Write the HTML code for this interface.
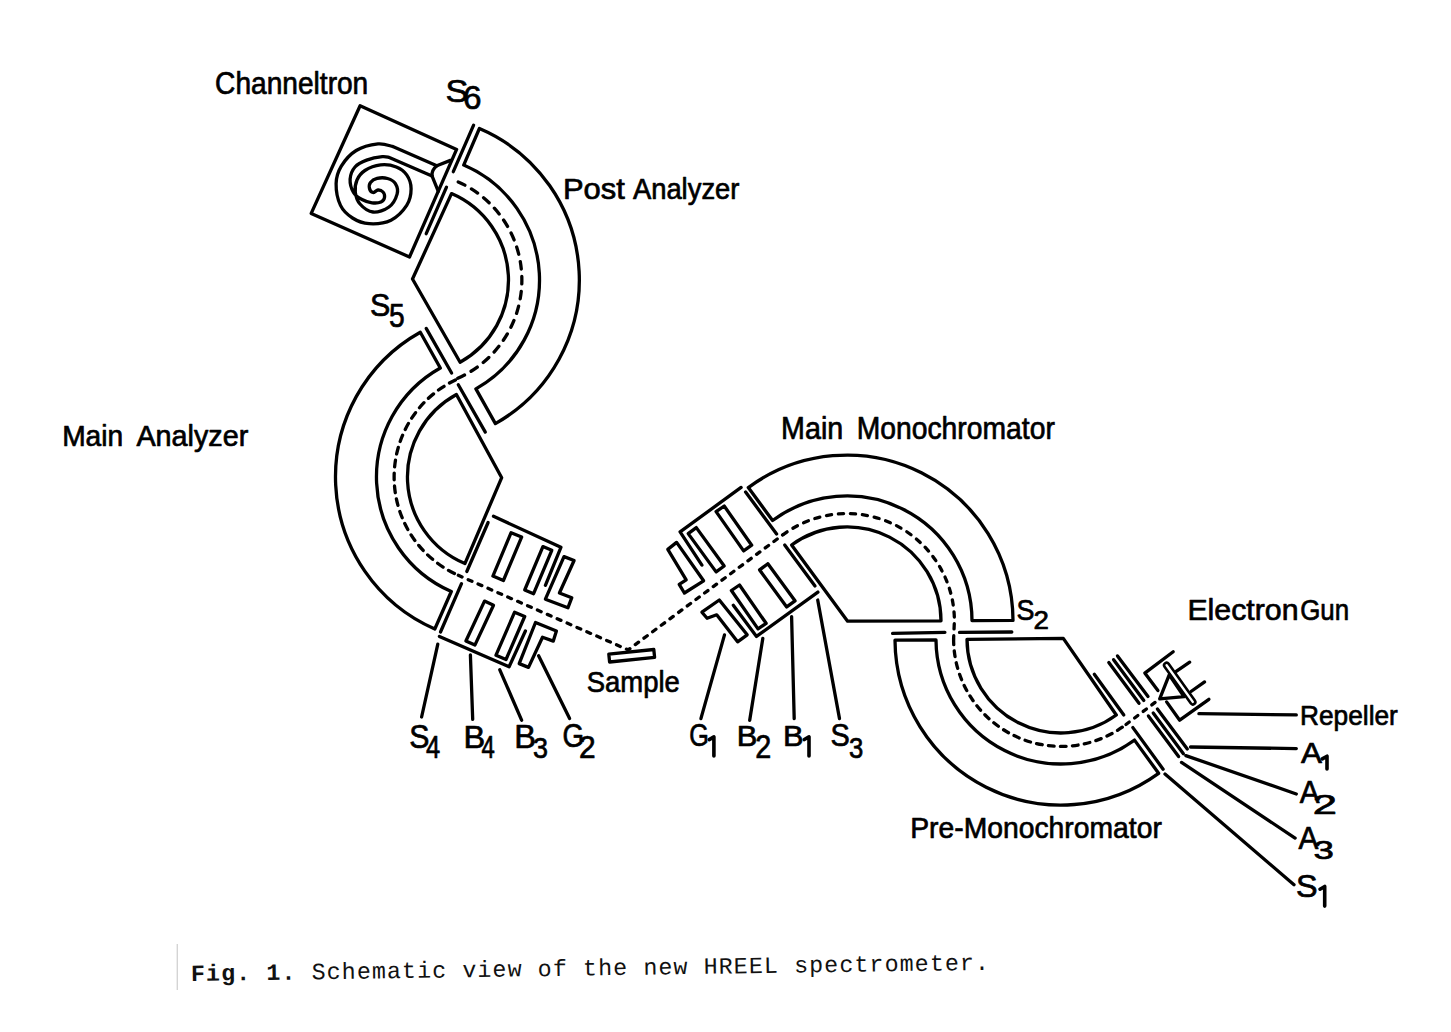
<!DOCTYPE html>
<html><head><meta charset="utf-8"><style>
html,body{margin:0;padding:0;background:#fff;}
body{width:1451px;height:1032px;overflow:hidden;}
svg{display:block;}
.s{fill:none;stroke:#000;stroke-width:3.3;stroke-linejoin:round;stroke-linecap:round;}
.d{fill:none;stroke:#000;stroke-width:3.3;stroke-dasharray:7.5 7.5;stroke-linecap:round;}
.t{font-family:"Liberation Sans",sans-serif;fill:#000;stroke:#000;stroke-width:0.7px;stroke-linejoin:round;}
.c{font-family:"Liberation Mono",monospace;font-size:23.3px;letter-spacing:1.1px;fill:#111;white-space:pre;}
</style></head><body>
<svg width="1451" height="1032" viewBox="0 0 1451 1032">
<path class="s" d="M479.4,128.5 A164.8,164.8 0 0 1 495.4,423.6 L475.9,388.9 A125.0,125.0 0 0 0 463.7,165.1 Z"/>
<path class="s" d="M451.5,193.6 A94.0,94.0 0 0 1 460.1,362.2 L412.5,279.0 Z"/>
<path class="s" d="M473.6,125.2 L453.3,171.7"/>
<path class="s" d="M446.5,187.2 L426.2,233.7"/>
<path class="s" d="M426.2,328.4 L451.6,373.0"/>
<path class="s" d="M458.3,384.7 L485.3,432.1"/>
<path class="s" d="M360.1,105.8 L456.6,149.4 L409.5,257.0 L311.2,213.4 Z"/>
<path class="s" d="M436.8,165.7 L450.4,160.4"/>
<path class="s" d="M436.8,165.7 Q431.5,170 432,175.9"/>
<path class="s" d="M432,175.9 L438.3,191.4"/>
<path class="s" d="M436.8,165.7 L392.8,146.5 C390.3,146.1 384.1,143.2 378.0,143.9 C371.9,144.6 362.3,146.8 356.2,150.5 C350.1,154.2 344.6,160.7 341.3,166.2 C338.0,171.7 336.2,177.1 336.1,183.6 C336.0,190.1 337.8,199.7 340.5,205.4 C343.2,211.1 347.7,214.9 352.5,218.0 C357.3,221.1 362.8,223.3 369.2,223.7 C375.6,224.1 384.8,223.2 391.0,220.2 C397.2,217.1 403.3,210.6 406.7,205.4 C410.1,200.2 411.1,193.9 411.1,188.8 C411.1,183.7 409.2,178.5 406.7,174.9 C404.2,171.3 400.6,168.7 396.3,167.0 C392.0,165.3 385.8,164.3 380.6,164.9 C375.4,165.5 368.8,168.0 364.9,170.5 C361.0,173.0 358.6,176.4 357.0,180.0 C355.4,183.6 354.8,188.3 355.3,192.3 C355.8,196.3 357.1,200.7 360.0,204.0 C362.9,207.3 368.2,211.5 373.0,212.0 C377.8,212.5 385.0,210.0 389.0,207.0 C393.0,204.0 396.0,198.0 397.1,194.1 C398.2,190.2 397.0,186.2 395.4,183.6 C393.8,181.0 390.6,179.4 387.5,178.5 C384.4,177.6 379.9,177.7 377.1,178.4 C374.3,179.1 371.8,180.8 370.5,182.5 C369.2,184.2 369.1,186.8 369.5,188.5 C369.9,190.2 371.6,192.2 373.0,192.5 C374.4,192.8 376.3,190.1 378.0,190.0 C379.7,189.9 381.9,190.8 383.0,192.0 C384.1,193.2 384.8,195.8 384.5,197.5 C384.2,199.2 383.1,201.1 381.0,202.0 C378.9,202.9 375.2,203.2 372.0,202.8 C368.8,202.4 365.1,201.2 362.0,199.5 C358.9,197.8 355.5,195.9 353.5,192.5 C351.5,189.1 349.9,183.4 350.1,179.2 C350.4,174.9 352.2,170.2 355.0,167.0 C357.8,163.8 362.1,161.8 366.6,160.1 C371.2,158.4 378.5,157.0 382.3,156.6 C386.1,156.2 388.1,157.3 389.3,157.4 L432,175.9"/>
<path class="s" d="M420.3,332.2 A166.0,166.0 0 0 0 434.8,629.0 L451.3,591.5 A125.0,125.0 0 0 1 440.3,368.0 Z"/>
<path class="s" d="M456.4,394.5 A94.0,94.0 0 0 0 464.9,563.6 L501.7,477.7 Z"/>
<path class="s" d="M488.1,522.5 L466.8,571.5"/>
<path class="s" d="M461.5,583.7 L440.5,632.0"/>
<path class="s" d="M493.5,516.3 L560.9,547.3 L545.4,585.3"/>
<path class="s" d="M439.4,636.4 L509.1,666.7 L525.4,631.0"/>
<path class="s" d="M521.6,537.1 L511.1,532.7 L492.9,576.1 L503.4,580.5 Z"/>
<path class="s" d="M551.8,550.3 L542.9,546.6 L524.7,590.0 L533.6,593.7 Z"/>
<path class="s" d="M564.0,556.6 L574.1,560.5 L559.4,593.0 L571.8,597.7 L567.9,607.8 L545.4,599.2 Z"/>
<path class="s" d="M493.5,605.2 L484.5,601.1 L465.9,641.0 L474.9,645.1 Z"/>
<path class="s" d="M524.7,616.5 L514.6,612.2 L496.0,655.2 L506.0,659.5 Z"/>
<path class="s" d="M535.5,622.5 L556.4,631.0 L553.3,641.1 L542.5,637.2 L528.5,667.4 L519.2,663.6 Z"/>
<path class="s" d="M437.8,644.2 L421.6,717.0"/>
<path class="s" d="M470.4,655.0 L472.7,719.4"/>
<path class="s" d="M499.8,669.8 L521.6,720.2"/>
<path class="s" d="M538.6,655.8 L569.6,718.6"/>
<path class="s" d="M653.8,649.5 L608.8,654.2 L609.6,662.0 L654.6,657.3 Z"/>
<path class="s" d="M748.3,487.6 A166.0,166.0 0 0 1 1013.0,620.4 L972.0,620.6 A125.0,125.0 0 0 0 772.6,520.5 Z"/>
<path class="s" d="M791.6,545.0 A94.0,94.0 0 0 1 941.0,620.8 L847.6,621.2 Z"/>
<path class="s" d="M745.6,492.0 L776.6,534.0"/>
<path class="s" d="M784.7,545.0 L815.0,586.0"/>
<path class="s" d="M741.1,487.4 L680.1,531.9 L701.9,565.1"/>
<path class="s" d="M733.3,605.2 L756.5,636.4 L817.9,592.1"/>
<path class="s" d="M724.2,506.0 L716.1,511.6 L743.6,550.9 L751.7,545.2 Z"/>
<path class="s" d="M696.3,527.6 L688.2,533.6 L716.1,571.9 L724.2,566.0 Z"/>
<path class="s" d="M667.8,549.4 L676.6,542.4 L703.6,580.8 L684.4,593.0 L679.2,584.3 L686.2,579.9 Z"/>
<path class="s" d="M701.9,612.2 L719.3,600.0 L747.2,634.8 L737.6,641.8 L716.7,614.8 L707.1,618.3 Z"/>
<path class="s" d="M739.5,585.0 L731.4,590.5 L758.0,628.9 L766.1,623.3 Z"/>
<path class="s" d="M767.9,563.7 L759.6,569.9 L786.7,606.9 L795.0,600.8 Z"/>
<path class="s" d="M724.5,634.9 L700.9,718.6"/>
<path class="s" d="M762.8,638.4 L749.7,720.3"/>
<path class="s" d="M791.6,616.6 L794.2,718.6"/>
<path class="s" d="M817.7,600.0 L839.5,718.6"/>
<path class="s" d="M892.6,633.4 L944.9,632.4"/>
<path class="s" d="M959.5,632.4 L1011.8,632.0"/>
<path class="s" d="M895.0,640.2 A166.0,166.0 0 0 0 1158.6,773.3 L1134.5,740.1 A125.0,125.0 0 0 1 936.0,639.9 Z"/>
<path class="s" d="M967.0,639.3 A94.0,94.0 0 0 0 1116.3,715.0 L1063.3,638.4 Z"/>
<path class="s" d="M1094.3,674.3 L1123.8,715.0"/>
<path class="s" d="M1132.9,727.6 L1163.1,769.2"/>
<path class="s" d="M1108.8,662.6 L1139.0,703.3"/>
<path class="s" d="M1148.4,715.9 L1178.6,756.6"/>
<path class="s" d="M1113.6,659.7 L1143.8,700.4"/>
<path class="s" d="M1153.2,713.0 L1183.4,753.7"/>
<path class="s" d="M1117.5,655.9 L1148.0,696.5"/>
<path class="s" d="M1157.4,709.1 L1187.3,748.9"/>
<path class="s" d="M1173.2,651.8 L1144.8,673.1 L1157.9,690.6"/>
<path class="s" d="M1166.6,701.9 L1179.7,720.2 L1208.9,699.3"/>
<rect class="s" x="1164.1" y="662.8" width="50.0" height="5" rx="2.5" transform="rotate(54.40 1166.6 665.3)" style="stroke-width:2.6"/>
<path class="s" d="M1159.7,698.9 L1169.2,674.9 L1184.1,696.7 Z"/>
<path class="s" d="M1176.2,671.4 L1189.7,662.2"/>
<path class="s" d="M1191.0,691.5 L1204.6,681.9"/>
<path class="s" d="M1198.9,713.7 L1296.3,714.9"/>
<path class="s" d="M1190.5,747.0 L1296.3,748.6"/>
<path class="s" d="M1185.8,755.6 L1296.3,794.0"/>
<path class="s" d="M1181.5,762.4 L1295.1,838.1"/>
<path class="s" d="M1165.0,774.1 L1294.0,884.7"/>
<path class="d" d="M458.2,181.9 A107.4,107.4 0 0 1 455.6,379.2" style="stroke-dasharray:7.5 7.5"/>
<path class="d" d="M455.4,380.0 A107.4,107.4 0 0 0 458.3,575.3" style="stroke-dasharray:6.7 6.3"/>
<path class="d" d="M458.3,575.3 L628.2,649.9 L782.9,534.8" style="stroke-dasharray:4.1 6.7"/>
<path class="d" d="M782.9,534.8 A107.4,107.4 0 0 1 954.4,621.0 L953.6,639.0" style="stroke-dasharray:5.2 6.8"/>
<path class="d" d="M953.6,639.0 A107.4,107.4 0 0 0 1126.0,724.5" style="stroke-dasharray:5.7 6.3"/>
<path class="d" d="M1126.0,724.5 L1159.7,698.9" style="stroke-dasharray:4.1 6.7"/>
<text class="t" transform="translate(215.09 94.10) scale(0.9192 1)" style="font-size:30.60px">Channeltron</text>
<text class="t" transform="translate(562.93 198.60) scale(1.0378 1)" style="font-size:29.79px">Post</text>
<text class="t" transform="translate(632.90 198.60) scale(0.9192 1)" style="font-size:29.79px">Analyzer</text>
<text class="t" transform="translate(62.15 445.60) scale(0.9500 1)" style="font-size:29.65px">Main</text>
<text class="t" transform="translate(136.40 445.60) scale(0.9704 1)" style="font-size:29.65px">Analyzer</text>
<text class="t" transform="translate(781.11 439.10) scale(0.9368 1)" style="font-size:30.60px">Main</text>
<text class="t" transform="translate(856.64 439.10) scale(0.9249 1)" style="font-size:30.60px">Monochromator</text>
<text class="t" transform="translate(1187.38 619.70) scale(1.0085 1)" style="font-size:30.06px">Electron</text>
<text class="t" transform="translate(1300.21 619.70) scale(0.8604 1)" style="font-size:30.06px">Gun</text>
<text class="t" transform="translate(1300.00 725.30) scale(0.9333 1)" style="font-size:28.17px">Repeller</text>
<text class="t" transform="translate(910.24 837.60) scale(0.9462 1)" style="font-size:29.92px">Pre-Monochromator</text>
<text class="t" transform="translate(586.66 691.80) scale(0.9354 1)" style="font-size:29.38px">Sample</text>
<text class="t" transform="translate(445.46 102.09) scale(1.1210 1)" style="font-size:30.56px">S</text>
<text class="t" transform="translate(462.93 109.26) scale(0.9944 1)" style="font-size:33.52px">6</text>
<text class="t" transform="translate(369.93 315.98) scale(0.9436 1)" style="font-size:32.25px">S</text>
<text class="t" transform="translate(389.07 327.38) scale(0.8699 1)" style="font-size:32.43px">5</text>
<text class="t" transform="translate(1016.39 619.50) scale(0.8986 1)" style="font-size:30.00px">S</text>
<text class="t" transform="translate(1033.62 628.50) scale(1.1077 1)" style="font-size:25.00px">2</text>
<text class="t" transform="translate(1301.00 762.60) scale(1.0327 1)" style="font-size:30.43px">A</text>
<path class="s" style="stroke-width:3.6" d="M1322.3,758.9 L1327.0,756.2 L1327.0,768.9"/>
<text class="t" transform="translate(1299.80 803.30) scale(0.9249 1)" style="font-size:32.03px">A</text>
<text class="t" transform="translate(1312.72 813.70) scale(1.5463 1)" style="font-size:28.14px">2</text>
<text class="t" transform="translate(1298.60 848.60) scale(0.9296 1)" style="font-size:32.03px">A</text>
<text class="t" transform="translate(1313.43 858.74) scale(1.4059 1)" style="font-size:26.06px">3</text>
<text class="t" transform="translate(1295.94 897.09) scale(1.0392 1)" style="font-size:31.13px">S</text>
<path class="s" style="stroke-width:3.6" d="M1320.0,889.2 L1324.7,886.5 L1324.7,906.1"/>
<text class="t" transform="translate(409.24 748.17) scale(0.9143 1)" style="font-size:33.10px">S</text>
<text class="t" transform="translate(425.99 758.40) scale(0.8012 1)" style="font-size:31.88px">4</text>
<text class="t" transform="translate(463.40 747.80) scale(1.0201 1)" style="font-size:31.88px">B</text>
<text class="t" transform="translate(481.42 758.40) scale(0.7515 1)" style="font-size:31.88px">4</text>
<text class="t" transform="translate(514.20 747.80) scale(0.9843 1)" style="font-size:33.04px">B</text>
<text class="t" transform="translate(533.12 758.10) scale(0.8940 1)" style="font-size:30.14px">3</text>
<text class="t" transform="translate(562.41 747.46) scale(0.8289 1)" style="font-size:33.52px">G</text>
<text class="t" transform="translate(578.91 758.40) scale(0.9777 1)" style="font-size:30.57px">2</text>
<text class="t" transform="translate(689.24 746.19) scale(0.8204 1)" style="font-size:30.70px">G</text>
<path class="s" style="stroke-width:3.6" d="M709.2,739.6 L713.9,736.9 L713.9,756.0"/>
<text class="t" transform="translate(736.83 745.60) scale(1.0587 1)" style="font-size:29.13px">B</text>
<text class="t" transform="translate(755.26 757.80) scale(0.8576 1)" style="font-size:33.57px">2</text>
<text class="t" transform="translate(783.03 745.60) scale(1.0330 1)" style="font-size:29.86px">B</text>
<path class="s" style="stroke-width:3.6" d="M804.3,739.5 L809.0,736.8 L809.0,756.0"/>
<text class="t" transform="translate(830.40 746.19) scale(0.9402 1)" style="font-size:30.70px">S</text>
<text class="t" transform="translate(848.97 757.51) scale(0.8767 1)" style="font-size:29.30px">3</text>
<text class="c" transform="rotate(-0.8 191 981)" x="191" y="981"><tspan style="font-weight:bold">Fig. 1.</tspan> Schematic view of the new HREEL spectrometer.</text>
<line x1="177.3" y1="944" x2="177.3" y2="990" stroke="#d4d4d4" stroke-width="1.4"/>
</svg>
</body></html>
